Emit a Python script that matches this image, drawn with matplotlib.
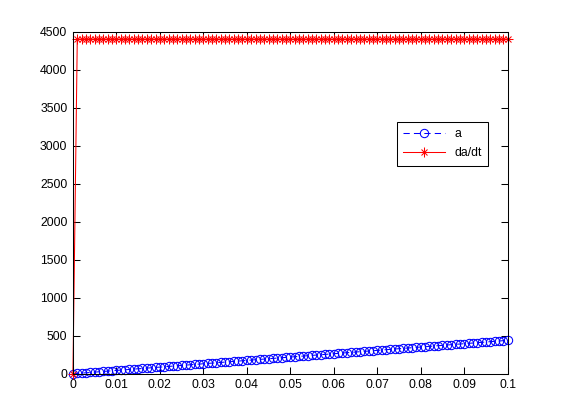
import numpy as np
import matplotlib.pyplot as plt
from matplotlib.legend_handler import HandlerTuple

plt.rcParams["font.family"] = ["Liberation Sans", "DejaVu Sans"]
plt.rcParams["font.size"] = 8.8

# время, шаг 0.001
t = np.arange(101) * 0.001

# a(t)
a = [0, 4.4, 8.8, 13.2, 17.6, 22, 26.4, 30.8, 35.2, 39.6,
     44, 48.4, 52.8, 57.2, 61.6, 66, 70.4, 74.8, 79.2, 83.6,
     88, 92.4, 96.8, 101.2, 105.6, 110, 114.4, 118.8, 123.2, 127.6,
     132, 136.4, 140.8, 145.2, 149.6, 154, 158.4, 162.8, 167.2, 171.6,
     176, 180.4, 184.8, 189.2, 193.6, 198, 202.4, 206.8, 211.2, 215.6,
     220, 224.4, 228.8, 233.2, 237.6, 242, 246.4, 250.8, 255.2, 259.6,
     264, 268.4, 272.8, 277.2, 281.6, 286, 290.4, 294.8, 299.2, 303.6,
     308, 312.4, 316.8, 321.2, 325.6, 330, 334.4, 338.8, 343.2, 347.6,
     352, 356.4, 360.8, 365.2, 369.6, 374, 378.4, 382.8, 387.2, 391.6,
     396, 400.4, 404.8, 409.2, 413.6, 418, 422.4, 426.8, 431.2, 435.6,
     440]

# da/dt
dadt = [0] + [4400] * 100

xticks = [0, 0.01, 0.02, 0.03, 0.04, 0.05, 0.06, 0.07, 0.08, 0.09, 0.1]
xtick_labels = ["0", "0.01", "0.02", "0.03", "0.04", "0.05", "0.06", "0.07", "0.08", "0.09", "0.1"]
yticks = [0, 500, 1000, 1500, 2000, 2500, 3000, 3500, 4000, 4500]

fig = plt.figure(figsize=(5.61, 4.2), dpi=100)
ax = fig.add_axes([0.13, 0.11, 0.775, 0.815])

la, = ax.plot(t, a, color="blue", linestyle=(0, (6, 4)), linewidth=0.75,
              marker="o", markersize=6, markerfacecolor="none",
              markeredgewidth=0.75, clip_on=False)
lp, = ax.plot(t, dadt, color="red", linewidth=0.75, marker="+",
              markersize=7, markeredgewidth=0.75, clip_on=False)
lx, = ax.plot(t, dadt, color="red", linestyle="none", marker="x",
              markersize=5, markeredgewidth=0.75, clip_on=False)

ax.set_xlim(0, 0.1)
ax.set_ylim(0, 4500)
ax.set_xticks(xticks)
ax.set_xticklabels(xtick_labels)
ax.set_yticks(yticks)
ax.tick_params(direction="in", length=5, width=0.75, top=True, right=True, pad=4)
for s in ax.spines.values():
    s.set_linewidth(0.75)

# звёздочка в легенде: + и x поверх друг друга
leg = ax.legend([la, (lp, lx)], ["a", "da/dt"],
                handler_map={tuple: HandlerTuple(ndivide=1, pad=0)},
                loc="upper left", bbox_to_anchor=(397 / 561, 1 - 122 / 420),
                bbox_transform=fig.transFigure, fancybox=False,
                edgecolor="black", framealpha=1, handlelength=3.4,
                borderpad=0.5, labelspacing=0.6, handletextpad=0.8,
                borderaxespad=0)
leg.get_frame().set_linewidth(0.75)

fig.savefig("out.png", dpi=100)
